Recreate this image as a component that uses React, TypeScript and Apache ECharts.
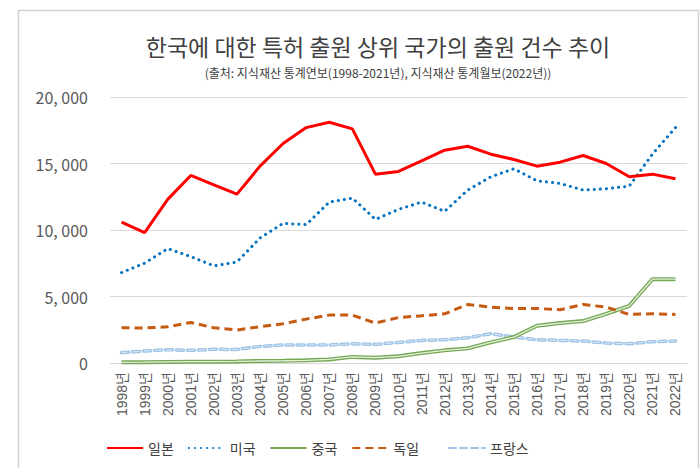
import React, { useEffect, useRef } from "react";
import * as echarts from "echarts";

const years = [
  "1998년", "1999년", "2000년", "2001년", "2002년", "2003년", "2004년", "2005년", "2006년",
  "2007년", "2008년", "2009년", "2010년", "2011년", "2012년", "2013년", "2014년", "2015년",
  "2016년", "2017년", "2018년", "2019년", "2020년", "2021년", "2022년",
];
const japan = [10600, 9800, 12300, 14100, 13400, 12700, 14800, 16500, 17700, 18100, 17600, 14200, 14400, 15200, 16000, 16300, 15700, 15300, 14800, 15100, 15600, 15000, 14000, 14200, 13850];
const usa = [6800, 7500, 8600, 8000, 7300, 7600, 9400, 10500, 10400, 12100, 12400, 10800, 11550, 12100, 11400, 13000, 14000, 14600, 13700, 13500, 13000, 13100, 13300, 15700, 17700];
const china = [50, 60, 80, 100, 100, 120, 150, 170, 200, 270, 460, 400, 500, 750, 950, 1100, 1550, 1950, 2800, 3000, 3150, 3700, 4300, 6300, 6300];
const germany = [2650, 2630, 2720, 3050, 2650, 2480, 2730, 2950, 3300, 3600, 3600, 3000, 3420, 3550, 3700, 4400, 4200, 4100, 4100, 4000, 4400, 4200, 3650, 3700, 3650];
const france = [780, 900, 1000, 950, 1030, 1020, 1250, 1350, 1350, 1350, 1450, 1400, 1550, 1700, 1750, 1900, 2200, 1950, 1750, 1700, 1650, 1500, 1450, 1600, 1650];

const FONT = "'Noto Sans CJK KR', 'Noto Sans', sans-serif";

export default function App() {
  const ref = useRef<HTMLDivElement>(null);
  useEffect(() => {
    if (!ref.current) return;
    const chart = echarts.init(ref.current, null, { renderer: "svg" });
    chart.setOption({
      animation: false,
      backgroundColor: "#ffffff",
      textStyle: { fontFamily: FONT },
      graphic: [
        {
          type: "rect",
          shape: { x: 18.5, y: 10.5, width: 680, height: 470 },
          style: { fill: "none", stroke: "#d0d0d0", lineWidth: 1.5 },
          z: -10,
        },
      ],
      title: [
        {
          text: "한국에 대한 특허 출원 상위 국가의 출원 건수 추이",
          left: 373,
          top: 29,
          textAlign: "center",
          textStyle: { fontSize: 23, fontWeight: "normal", color: "#404040", fontFamily: FONT },
        },
        {
          text: "(출처: 지식재산 통계연보(1998-2021년), 지식재산 통계월보(2022년))",
          left: 373,
          top: 61,
          textAlign: "center",
          textStyle: { fontSize: 12, fontWeight: "normal", color: "#404040", fontFamily: FONT },
        },
      ],
      legend: [
        {
          data: ["일본", "미국", "중국", "독일"],
          left: 101,
          top: 436,
          itemWidth: 36,
          itemHeight: 10,
          itemGap: 14,
          itemStyle: { opacity: 0 },
          textStyle: { fontSize: 14, color: "#404040", fontFamily: FONT },
        },
        {
          data: ["프랑스"],
          left: 443,
          top: 436,
          itemWidth: 36,
          itemHeight: 10,
          itemStyle: { opacity: 0 },
          textStyle: { fontSize: 14, color: "#404040", fontFamily: FONT },
        },
      ],
      grid: { left: 110, right: 13, top: 97, bottom: 105, containLabel: false },
      xAxis: {
        type: "category",
        data: years,
        boundaryGap: true,
        axisLine: { show: true, lineStyle: { color: "#d9d9d9", width: 1 } },
        axisTick: { show: false },
        axisLabel: {
          rotate: 90,
          interval: 0,
          fontSize: 14,
          color: "#595959",
          margin: 9,
          fontFamily: "'Liberation Sans', 'Noto Sans CJK KR', sans-serif",
        },
      },
      yAxis: {
        type: "value",
        min: 0,
        max: 20000,
        interval: 5000,
        axisLine: { show: false },
        axisTick: { show: false },
        splitLine: { lineStyle: { color: "#d9d9d9", width: 1 } },
        axisLabel: {
          fontSize: 16,
          color: "#595959",
          margin: 22,
          formatter: (v: number) => v.toLocaleString("en-US").replace(/,/g, ", "),
        },
      },
      series: [
        {
          name: "일본",
          type: "line",
          data: japan,
          symbol: "none",
          lineStyle: { color: "#ff0000", width: 3 },
          itemStyle: { color: "#ff0000" },
          z: 6,
        },
        {
          name: "미국",
          type: "line",
          data: usa,
          symbol: "none",
          lineStyle: { color: "#0070c0", width: 3, type: [0.1, 6], cap: "round" },
          itemStyle: { color: "#0070c0" },
          z: 5,
        },
        {
          name: "중국",
          type: "line",
          data: china,
          symbol: "none",
          lineStyle: { color: "#75a855", width: 4 },
          itemStyle: { color: "#75a855" },
          z: 3,
        },
        {
          name: "중국내부",
          type: "line",
          data: china,
          symbol: "none",
          lineStyle: { color: "#e6f0dc", width: 1.3 },
          itemStyle: { color: "#e6f0dc" },
          z: 3,
          silent: true,
        },
        {
          name: "독일",
          type: "line",
          data: germany,
          symbol: "none",
          lineStyle: { color: "#c55a11", width: 3, type: [8, 5] },
          itemStyle: { color: "#c55a11" },
          z: 4,
        },
        {
          name: "프랑스",
          type: "line",
          data: france,
          symbol: "none",
          lineStyle: { color: "#9dc3e6", width: 3.5, type: [7, 4], cap: "round" },
          itemStyle: { color: "#9dc3e6" },
          z: 2,
        },
        {
          name: "프랑스내부",
          type: "line",
          data: france,
          symbol: "none",
          lineStyle: { color: "#dde9f6", width: 1, type: [7, 4] },
          itemStyle: { color: "#dde9f6" },
          z: 2,
          silent: true,
        },
      ],
    });
    return () => chart.dispose();
  }, []);
  return <div ref={ref} style={{ width: 700, height: 468, position: "absolute", left: 0, top: 0 }} />;
}
